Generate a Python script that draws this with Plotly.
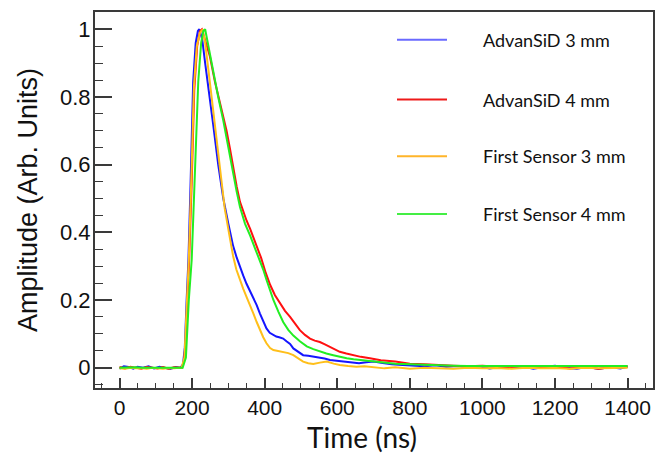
import plotly.graph_objects as go

# ---------------- data ----------------
series_names = ["AdvanSiD 3 mm", "AdvanSiD 4 mm", "First Sensor 3 mm", "First Sensor 4 mm"]
series_colors = ["#1515ff", "#ff1010", "#ffbf1a", "#22ee22"]
legend_colors = ["#6a6aff", "#ee1a1a", "#ffb52a", "#44ee44"]

t_adv3 = [0, 12, 25, 38, 50, 65, 80, 95, 110, 125, 140, 155, 168, 175, 180, 185, 190, 196, 203, 210,
          216, 220, 228, 236, 245, 258, 272, 286, 300, 313, 323, 332, 341, 350, 360, 369, 378, 387, 396, 405,
          414, 424, 432, 440, 451, 460, 470, 479, 492, 506, 520, 535, 550, 565, 580, 600, 620, 640, 660, 680,
          700, 725, 750, 780, 810, 840, 870, 900, 930, 960, 990, 1020, 1050, 1080, 1110, 1140, 1170, 1200, 1230, 1260,
          1290, 1320, 1350, 1380, 1400]
a_adv3 = [-0.003, 0.004, 0.002, -0.003, 0.003, 0.0, 0.004, -0.002, 0.003, 0.0, -0.004, 0.002, 0.0, 0.01, 0.06, 0.2, 0.32, 0.55, 0.845, 0.96,
          0.995, 1.0, 0.97, 0.9, 0.82, 0.72, 0.6, 0.5, 0.425, 0.36, 0.325, 0.297, 0.272, 0.248, 0.226, 0.209, 0.185, 0.16, 0.137, 0.116,
          0.103, 0.096, 0.092, 0.09, 0.086, 0.078, 0.07, 0.057, 0.048, 0.037, 0.035, 0.033, 0.03, 0.027, 0.023, 0.02, 0.017, 0.014, 0.013, 0.016,
          0.018, 0.014, 0.01, 0.008, 0.006, 0.004, 0.007, 0.003, 0.005, 0.002, 0.004, -0.002, 0.003, 0.0, 0.004, -0.003, 0.002, 0.006, 0.0, -0.003,
          0.003, -0.004, 0.002, -0.002, 0.003]

t_adv4 = [0, 15, 30, 45, 60, 75, 90, 105, 120, 135, 150, 165, 172, 178, 183, 187, 192, 199, 206, 214,
          222, 227, 236, 249, 263, 275, 286, 295, 304, 313, 323, 332, 341, 350, 360, 375, 390, 403, 415, 428,
          442, 456, 470, 483, 497, 511, 525, 538, 552, 566, 580, 593, 607, 625, 644, 665, 690, 720, 760, 800,
          840, 880, 920, 960, 1000, 1040, 1080, 1120, 1160, 1200, 1240, 1280, 1320, 1360, 1400]
a_adv4 = [0.002, -0.002, 0.003, 0.0, -0.003, 0.002, 0.0, -0.002, 0.002, -0.003, 0.001, 0.0, 0.0, 0.02, 0.08, 0.2, 0.32, 0.55, 0.82, 0.95,
          0.995, 1.0, 0.97, 0.92, 0.845, 0.79, 0.747, 0.70, 0.649, 0.59, 0.535, 0.49, 0.46, 0.435, 0.41, 0.37, 0.325, 0.28, 0.245, 0.215,
          0.19, 0.168, 0.15, 0.13, 0.111, 0.097, 0.086, 0.08, 0.076, 0.069, 0.062, 0.055, 0.047, 0.042, 0.037, 0.032, 0.028, 0.022, 0.018, 0.012,
          0.01, 0.007, 0.006, 0.004, 0.006, 0.003, 0.002, 0.005, 0.001, 0.004, -0.002, 0.003, -0.003, 0.002, 0.004]

t_fs3 = [0, 15, 30, 45, 60, 75, 90, 105, 120, 135, 150, 165, 171, 179, 186, 191, 198, 205, 213, 222,
         229, 236, 245, 254, 263, 276, 290, 303, 313, 322, 332, 341, 350, 360, 369, 378, 387, 396, 405, 415,
         424, 438, 451, 465, 479, 492, 506, 520, 534, 552, 571, 590, 607, 630, 653, 675, 700, 730, 760, 800,
         840, 880, 920, 960, 1000, 1040, 1080, 1120, 1160, 1200, 1240, 1280, 1320, 1360, 1400]
a_fs3 = [-0.002, -0.003, 0.0, -0.002, -0.001, -0.003, 0.0, -0.002, -0.003, -0.001, -0.002, 0.0, 0.0, 0.03, 0.2, 0.32, 0.56, 0.83, 0.95, 0.99,
         1.0, 0.96, 0.88, 0.8, 0.71, 0.59, 0.47, 0.39, 0.33, 0.29, 0.258, 0.233, 0.209, 0.185, 0.16, 0.135, 0.111, 0.09, 0.072, 0.058,
         0.052, 0.049, 0.047, 0.043, 0.037, 0.028, 0.018, 0.013, 0.011, 0.015, 0.018, 0.012, 0.008, 0.005, 0.003, 0.004, 0.002, -0.002, 0.001, -0.003,
         0.0, -0.002, -0.003, 0.0, -0.002, -0.001, -0.003, 0.0, -0.002, -0.001, -0.003, 0.0, -0.002, -0.001, 0.0]

t_fs4 = [0, 15, 30, 45, 60, 75, 90, 105, 120, 135, 150, 165, 174, 183, 191, 199, 206, 217, 225, 231,
         236, 245, 258, 272, 286, 300, 313, 323, 332, 346, 360, 373, 387, 396, 405, 415, 424, 438, 451, 465,
         479, 497, 516, 534, 552, 570, 589, 607, 626, 645, 663, 690, 720, 760, 800, 840, 880, 920, 960, 1000,
         1040, 1080, 1120, 1160, 1200, 1240, 1280, 1320, 1360, 1400]
a_fs4 = [0.0, 0.001, 0.0, 0.001, 0.0, 0.0, 0.001, 0.0, 0.001, 0.0, 0.001, 0.0, 0.0, 0.03, 0.2, 0.32, 0.55, 0.845, 0.96, 0.995,
         1.0, 0.95, 0.87, 0.8, 0.73, 0.65, 0.57, 0.52, 0.475, 0.425, 0.39, 0.355, 0.316, 0.29, 0.26, 0.228, 0.2, 0.165, 0.135, 0.112,
         0.095, 0.078, 0.063, 0.055, 0.048, 0.042, 0.037, 0.032, 0.028, 0.025, 0.023, 0.02, 0.016, 0.012, 0.01, 0.008, 0.007, 0.006, 0.005, 0.005,
         0.004, 0.005, 0.004, 0.005, 0.004, 0.005, 0.004, 0.005, 0.004, 0.005]

x_tickvals = [0, 200, 400, 600, 800, 1000, 1200, 1400]
y_tickvals = [0, 0.2, 0.4, 0.6, 0.8, 1]
x_title = "Time (ns)"
y_title = "Amplitude (Arb. Units)"

# ---------------- figure ----------------
W, H = 667, 455
ML, MR, MT, MB = 95, 14, 10, 67
PW, PH = W - ML - MR, H - MT - MB

fig = go.Figure()
all_t = [t_adv3, t_adv4, t_fs3, t_fs4]
all_a = [a_adv3, a_adv4, a_fs3, a_fs4]
for name, col, t, a in zip(series_names, series_colors, all_t, all_a):
    fig.add_trace(go.Scatter(x=t, y=a, mode="lines", name=name,
                             line=dict(color=col, width=2), showlegend=False))

axis_col = "#3a3a3a"
fig.update_layout(
    width=W, height=H,
    margin=dict(l=ML, r=MR, t=MT, b=MB),
    paper_bgcolor="white", plot_bgcolor="white",
    font=dict(family="Liberation Sans, Arial, sans-serif", color="#111"),
)
fig.update_xaxes(
    range=[-67.5, 1470], tickvals=x_tickvals, ticks="inside", ticklen=10, tickwidth=1.6,
    tickcolor=axis_col, showline=True, linecolor=axis_col, linewidth=2, mirror=True,
    showgrid=False, zeroline=False, tickfont=dict(size=21, color="#111"),
    minor=dict(ticks="inside", dtick=50, tick0=0, ticklen=5, tickwidth=1.2, tickcolor=axis_col, showgrid=False),
)
fig.update_yaxes(
    range=[-0.06, 1.051], tickvals=y_tickvals, ticks="inside", ticklen=17, tickwidth=1.6,
    tickcolor=axis_col, showline=True, linecolor=axis_col, linewidth=2, mirror=True,
    showgrid=False, zeroline=False, tickfont=dict(size=22, color="#111"), ticklabelstandoff=-2,
    minor=dict(ticks="inside", dtick=0.05, tick0=0, ticklen=8, tickwidth=1.2, tickcolor=axis_col, showgrid=False),
)

def px_to_paper_x(px):
    return (px - ML) / PW

def px_to_paper_y(py):
    return (H - MB - py) / PH

annotations = [
    dict(text=y_title, x=px_to_paper_x(28), y=px_to_paper_y(199), xref="paper", yref="paper",
         textangle=-90, showarrow=False, xanchor="center", yanchor="middle",
         font=dict(family="Liberation Sans, Arial, sans-serif", size=27, color="#111")),
    dict(text=x_title, x=px_to_paper_x(362), y=px_to_paper_y(437), xref="paper", yref="paper",
         showarrow=False, xanchor="center", yanchor="middle",
         font=dict(family="Lato, sans-serif", size=28, color="#111")),
]
shapes = []
legend_rows = [38, 98, 155, 213]
for name, col, ry in zip(series_names, legend_colors, legend_rows):
    shapes.append(dict(type="line", xref="paper", yref="paper",
                       x0=px_to_paper_x(397), x1=px_to_paper_x(447),
                       y0=px_to_paper_y(ry), y1=px_to_paper_y(ry),
                       line=dict(color=col, width=2)))
    annotations.append(dict(text=name, x=px_to_paper_x(481), y=px_to_paper_y(ry), xref="paper", yref="paper",
                            showarrow=False, xanchor="left", yanchor="middle",
                            font=dict(family="Lato, sans-serif", size=18, color="#111")))
fig.update_layout(annotations=annotations, shapes=shapes)

fig.write_html("out.html")
